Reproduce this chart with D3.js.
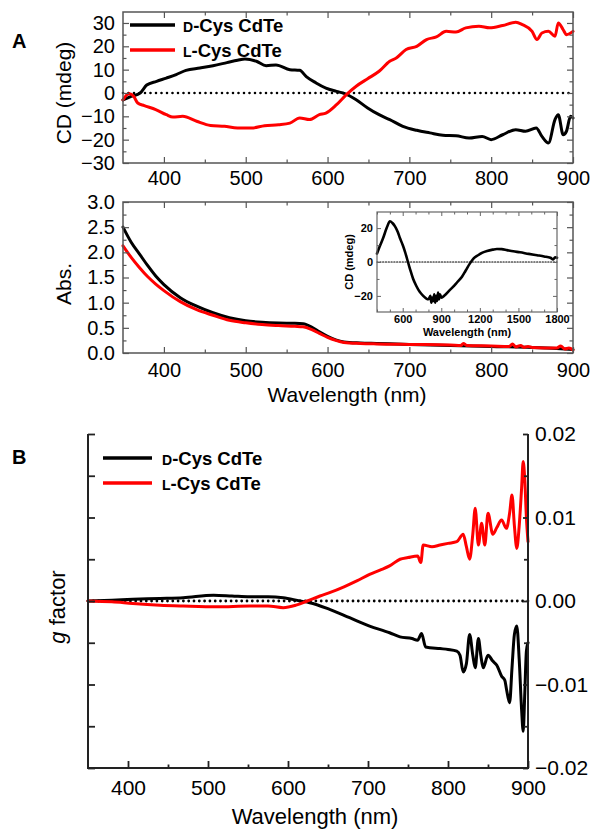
<!DOCTYPE html>
<html><head><meta charset="utf-8">
<script src="https://cdn.jsdelivr.net/npm/d3@7"></script>
<style>
body{margin:0;background:#fff;}
svg{display:block;font-family:"Liberation Sans",Arial,Helvetica,sans-serif;}
</style></head><body>
<svg id="c" width="594" height="830"></svg>
<script>
// ---------- DATA ----------
const seriesNames = ["D-Cys CdTe", "L-Cys CdTe"];
const seriesColors = ["#000000", "#ff0000"];

// Panel A top: CD (mdeg)
const cdDWl = [350,360,371,379,391,403,415,427,444,460,477,490,499,513,525,537,554,566,574,586,598,611,621,635,649,663,676,692,709,725,741,757,773,789,800,814,830,842,855,862,870,878,882,888,892,897,900];
const cdD   = [-3,-1.5,0,3.4,5,6.4,7.9,9.7,10.7,11.7,13,14,14.6,13.6,11.7,12,10,9.7,7,4.3,2.1,0.7,-0.3,-2.9,-6.4,-9.3,-11.4,-14.3,-16,-17.1,-18.1,-18.3,-19.3,-18.6,-20,-17.9,-15.7,-16.4,-15,-18.6,-21.4,-11.4,-9.3,-17.9,-16.4,-10,-10.7];
const cdLWl = [350,355,358,363,368,376,390,403,411,423,440,457,474,490,507,523,540,554,566,578,590,598,611,623,635,649,663,676,684,696,709,721,733,745,757,769,785,798,814,830,838,850,856,862,870,878,882,888,892,900];
const cdL   = [-3,-0.7,-0.3,-1.4,-4.3,-5.4,-7.1,-9.3,-10.3,-10,-12.1,-13.9,-14.3,-15,-15,-14,-13.6,-12.9,-10.7,-11.4,-9.3,-8.6,-5,-0.7,2.9,6.1,9.3,13.6,15,18.6,20,22.9,24,26.4,26.1,27.9,28.6,27.9,28.9,30.3,29.3,26.4,22.9,25.7,26.4,24.3,30,27.1,25,26.4];

// Panel A middle: absorbance
const absDWl = [350,360,370,380,390,400,420,440,460,480,500,520,540,560,570,580,590,600,610,620,640,660,700,750,800,850,880,900];
const absD   = [2.5,2.2,1.97,1.74,1.53,1.36,1.1,0.93,0.8,0.7,0.64,0.61,0.595,0.59,0.58,0.52,0.42,0.33,0.26,0.22,0.2,0.19,0.17,0.15,0.13,0.11,0.09,0.07];
const absLWl = [350,360,370,380,390,400,420,440,460,480,500,520,540,560,570,580,590,600,610,620,640,660,700,750,763,766,770,800,822,826,830,836,840,845,850,880,885,890,895,900];
const absL   = [2.13,1.9,1.7,1.52,1.37,1.24,1.02,0.86,0.75,0.65,0.6,0.565,0.545,0.53,0.52,0.47,0.39,0.31,0.25,0.21,0.19,0.18,0.17,0.16,0.15,0.19,0.15,0.14,0.13,0.18,0.12,0.15,0.11,0.13,0.11,0.1,0.14,0.08,0.1,0.06];

// Inset: CD over long range
const insetWl = [400,420,447,475,501,520,540,560,579,600,618,641,660,680,705,732,760,784,800,815,823,830,838,845,852,860,868,875,882,890,900,927,960,991,1025,1061,1090,1123,1150,1186,1220,1256,1300,1333,1370,1411,1460,1512,1580,1645,1700,1749,1770,1785,1800];
const insetCD = [5,9,14,20,24,23,21,18,14,10,6,0,-5,-9.7,-14,-17.6,-20,-21.6,-22,-20,-24,-21,-23,-19,-24,-20,-23,-18,-22,-19,-21,-19.6,-17,-14.7,-11.8,-8.7,-5,-0.8,2,4,5.5,6.5,7.3,7.7,7.6,7,6.3,5.7,4.8,4,3.3,2.5,1.5,2.8,2.5];

// Panel B: g factor
const gDWl = [350,380,406,440,469,507,530,552,575,594,615,627,652,677,702,727,740,755,762,767,772,790,800,811,815,819,823,827,831,834,838,841,844,850,856,861,867,871,873,877,880,883,886,889,892,894,896,898,900];
const gD   = [0,0.0001,0.0002,0.0003,0.0004,0.0007,0.0006,0.0005,0.0005,0.0004,0,-0.0002,-0.001,-0.002,-0.003,-0.0038,-0.0043,-0.0045,-0.0047,-0.0039,-0.0055,-0.0057,-0.0058,-0.006,-0.0065,-0.0085,-0.0075,-0.004,-0.0065,-0.008,-0.0045,-0.0065,-0.008,-0.0065,-0.0072,-0.0077,-0.009,-0.0095,-0.0105,-0.0122,-0.008,-0.004,-0.003,-0.007,-0.013,-0.0156,-0.011,-0.006,-0.005];
const gLWl = [350,380,406,440,469,511,552,575,594,610,624,640,652,670,686,702,715,727,740,750,762,766,769,780,790,800,811,819,823,827,831,834,838,842,846,850,856,861,867,873,877,880,883,886,889,892,894,896,898,900];
const gL   = [0,-0.0001,-0.0003,-0.0005,-0.0006,-0.0007,-0.0006,-0.0006,-0.0008,-0.0005,0,0.0006,0.001,0.0017,0.0024,0.0032,0.0037,0.0042,0.005,0.0052,0.0054,0.0046,0.0067,0.0065,0.0067,0.0069,0.0071,0.008,0.0065,0.005,0.008,0.0111,0.0067,0.0093,0.0067,0.0105,0.008,0.0088,0.0097,0.0087,0.0105,0.0127,0.009,0.0063,0.009,0.0135,0.0167,0.0145,0.01,0.0071];

// Ticks
const wlTicks = [400,500,600,700,800,900];
const wlMinor = [450,550,650,750,850];
const cdTicks = [-30,-20,-10,0,10,20,30];
const cdMinor = [-25,-15,-5,5,15,25];
const absTicks = [0,0.5,1,1.5,2,2.5,3];
const absMinor = [0.25,0.75,1.25,1.75,2.25,2.75];
const insetXTicks = [600,900,1200,1500,1800];
const insetXMinor = [400,500,700,800,1000,1100,1300,1400,1600,1700];
const insetYTicks = [-20,0,20];
const insetYMinor = [-10,10];
const gTicks = [-0.02,-0.01,0,0.01,0.02];
const gMinor = [-0.015,-0.005,0.005,0.015];

// ---------- DRAWING ----------
const svg = d3.select("#c");

function clean(sel){ sel.select(".domain").remove(); return sel; }

function axisGroup(g, gen, tr, color, tw, fs, fw){
  const a = g.append("g").attr("transform", tr).call(gen);
  clean(a);
  a.selectAll("line").attr("stroke", color).attr("stroke-width", tw);
  a.selectAll("text").attr("fill", "#000").style("font-size", fs + "px").style("font-weight", fw);
  return a;
}

function boxAxes(g, x, y, o){
  const [x0,x1] = x.range(); const [y0,y1] = y.range();
  const c = o.color, w = o.width;
  axisGroup(g, d3.axisBottom(x).tickValues(o.xMajor).tickSize(-o.maj).tickPadding(o.xPad).tickFormat(o.xFmt), `translate(0,${y0})`, c, w, o.fs, o.fw);
  axisGroup(g, d3.axisBottom(x).tickValues(o.xMinor).tickSize(-o.min).tickFormat(""), `translate(0,${y0})`, c, w, o.fs, o.fw);
  axisGroup(g, d3.axisTop(x).tickValues(o.xMajor).tickSize(-o.maj).tickFormat(""), `translate(0,${y1})`, c, w, o.fs, o.fw);
  axisGroup(g, d3.axisTop(x).tickValues(o.xMinor).tickSize(-o.min).tickFormat(""), `translate(0,${y1})`, c, w, o.fs, o.fw);
  axisGroup(g, d3.axisLeft(y).tickValues(o.yMajor).tickSize(-o.maj).tickPadding(o.yPad).tickFormat(o.yFmt), `translate(${x0},0)`, c, w, o.fs, o.fw);
  axisGroup(g, d3.axisLeft(y).tickValues(o.yMinor).tickSize(-o.min).tickFormat(""), `translate(${x0},0)`, c, w, o.fs, o.fw);
  axisGroup(g, d3.axisRight(y).tickValues(o.yMajor).tickSize(-o.maj).tickFormat(""), `translate(${x1},0)`, c, w, o.fs, o.fw);
  axisGroup(g, d3.axisRight(y).tickValues(o.yMinor).tickSize(-o.min).tickFormat(""), `translate(${x1},0)`, c, w, o.fs, o.fw);
  g.append("rect").attr("x", x0).attr("y", y1).attr("width", x1-x0).attr("height", y0-y1)
    .attr("fill", "none").attr("stroke", c).attr("stroke-width", o.boxW || w);
}

function drawLine(g, x, y, wl, vals, color, sw){
  const line = d3.line().x(d => x(d[0])).y(d => y(d[1])).curve(d3.curveMonotoneX);
  g.append("path").datum(d3.zip(wl, vals)).attr("d", line)
    .attr("fill", "none").attr("stroke", color).attr("stroke-width", sw)
    .attr("stroke-linejoin", "round").attr("stroke-linecap", "round");
}

function zeroLine(g, x, y, x0v, x1v, sw, dash){
  g.append("line").attr("x1", x(x0v)).attr("x2", x(x1v)).attr("y1", y(0)).attr("y2", y(0))
    .attr("stroke", "#000").attr("stroke-width", sw).attr("stroke-dasharray", dash).attr("stroke-linecap", "round");
}

function legend(g, items, xl0, xl1, xt, ys, fs, sc){
  items.forEach((it, i) => {
    g.append("line").attr("x1", xl0).attr("x2", xl1).attr("y1", ys[i]).attr("y2", ys[i])
      .attr("stroke", it.color).attr("stroke-width", 3.5);
    const t = g.append("text").attr("x", xt).attr("y", ys[i]).attr("dy", "0.36em")
      .style("font-size", fs + "px").style("font-weight", "bold").attr("fill", "#000");
    t.append("tspan").style("font-size", sc + "px").text(it.name.charAt(0));
    t.append("tspan").text(it.name.slice(1));
  });
}
const legItems = seriesNames.map((n, i) => ({name: n, color: seriesColors[i]}));

// ===== Panel A top =====
const xA = d3.scaleLinear().domain([350, 900]).range([123, 573]);
const yCD = d3.scaleLinear().domain([-30, 34.7]).range([163, 12]);
const gA1 = svg.append("g");
zeroLine(gA1, xA, yCD, 350, 900, 2.6, "0 5.5");
drawLine(gA1, xA, yCD, cdDWl, cdD, seriesColors[0], 3);
drawLine(gA1, xA, yCD, cdLWl, cdL, seriesColors[1], 3);
boxAxes(gA1, xA, yCD, {xMajor: wlTicks, xMinor: wlMinor, yMajor: cdTicks, yMinor: cdMinor,
  xFmt: d3.format("d"), yFmt: d3.format("d"), color: "#555", width: 1.2, boxW: 1.5, maj: 6, min: 3.5,
  xPad: 8, yPad: 8, fs: 20, fw: "normal"});
legend(gA1, legItems, 130, 175, 183, [25, 50], 18.5, 14);
gA1.append("text").attr("transform", "translate(63,93) rotate(-90)").attr("text-anchor", "middle")
  .attr("dy", "0.36em").style("font-size", "21px").text("CD (mdeg)");
svg.append("text").attr("x", 12).attr("y", 48).style("font-size", "20px").style("font-weight", "bold").text("A");

// ===== Panel A middle =====
const yAbs = d3.scaleLinear().domain([0, 3]).range([353, 202]);
const gA2 = svg.append("g");
drawLine(gA2, xA, yAbs, absDWl, absD, seriesColors[0], 3);
drawLine(gA2, xA, yAbs, absLWl, absL, seriesColors[1], 3);
boxAxes(gA2, xA, yAbs, {xMajor: wlTicks, xMinor: wlMinor, yMajor: absTicks, yMinor: absMinor,
  xFmt: d3.format("d"), yFmt: d3.format(".1f"), color: "#555", width: 1.2, boxW: 1.5, maj: 6, min: 3.5,
  xPad: 10, yPad: 8, fs: 20, fw: "normal"});
gA2.append("text").attr("transform", "translate(63,284) rotate(-90)").attr("text-anchor", "middle")
  .attr("dy", "0.36em").style("font-size", "21px").text("Abs.");
gA2.append("text").attr("x", 347).attr("y", 402).attr("text-anchor", "middle")
  .style("font-size", "21px").text("Wavelength (nm)");

// Inset
const xI = d3.scaleLinear().domain([400, 1800]).range([377, 557]);
const yI = d3.scaleLinear().domain([-29.5, 29.5]).range([312, 212]);
const gI = svg.append("g");
gI.append("rect").attr("x", 377).attr("y", 212).attr("width", 180).attr("height", 100).attr("fill", "#fff");
zeroLine(gI, xI, yI, 400, 1800, 1.2, "1.2 1.6");
drawLine(gI, xI, yI, insetWl, insetCD, "#000", 2.6);
boxAxes(gI, xI, yI, {xMajor: insetXTicks, xMinor: insetXMinor, yMajor: insetYTicks, yMinor: insetYMinor,
  xFmt: d3.format("d"), yFmt: d3.format("d"), color: "#666", width: 1, boxW: 1.2, maj: 4, min: 2.5,
  xPad: 3, yPad: 4, fs: 11, fw: "bold"});
gI.append("text").attr("transform", "translate(349,262) rotate(-90)").attr("text-anchor", "middle")
  .attr("dy", "0.36em").style("font-size", "11px").style("font-weight", "bold").text("CD (mdeg)");
gI.append("text").attr("x", 467).attr("y", 336).attr("text-anchor", "middle")
  .style("font-size", "11px").style("font-weight", "bold").text("Wavelength (nm)");

// ===== Panel B =====
const xB = d3.scaleLinear().domain([350, 900]).range([88, 528]);
const yB = d3.scaleLinear().domain([-0.02, 0.02]).range([768, 434]);
const gB = svg.append("g");
zeroLine(gB, xB, yB, 350, 900, 2.8, "0 5.3");
drawLine(gB, xB, yB, gDWl, gD, seriesColors[0], 3);
drawLine(gB, xB, yB, gLWl, gL, seriesColors[1], 3);
const bc = "#222", bw = 1.8;
axisGroup(gB, d3.axisBottom(xB).tickValues(wlTicks).tickSize(-7).tickPadding(12).tickFormat(d3.format("d")), "translate(0,768)", bc, bw, 21, "normal");
axisGroup(gB, d3.axisBottom(xB).tickValues(wlMinor).tickSize(-3.5).tickFormat(""), "translate(0,768)", bc, bw, 21, "normal");
axisGroup(gB, d3.axisLeft(yB).tickValues(gTicks.concat(gMinor)).tickSize(-7).tickFormat(""), "translate(88,0)", bc, bw, 21, "normal");
axisGroup(gB, d3.axisRight(yB).tickValues(gTicks).tickSize(-5).tickPadding(7).tickFormat(d3.format(".2f")), "translate(528,0)", bc, bw, 21, "normal");
axisGroup(gB, d3.axisRight(yB).tickValues(gMinor).tickSize(-4).tickFormat(""), "translate(528,0)", bc, bw, 21, "normal");
gB.append("path").attr("d", `M88,434V768H528V434`).attr("fill", "none").attr("stroke", bc).attr("stroke-width", 2);
legend(gB, legItems, 103, 152, 162, [458, 483], 18.5, 14);
const gt = gB.append("text").attr("transform", "translate(57,607) rotate(-90)").attr("text-anchor", "middle")
  .attr("dy", "0.36em").style("font-size", "22px");
gt.append("tspan").style("font-style", "italic").text("g");
gt.append("tspan").text(" factor");
gB.append("text").attr("x", 315).attr("y", 824).attr("text-anchor", "middle")
  .style("font-size", "22px").text("Wavelength (nm)");
svg.append("text").attr("x", 12).attr("y", 464).style("font-size", "20px").style("font-weight", "bold").text("B");
</script>
</body></html>
